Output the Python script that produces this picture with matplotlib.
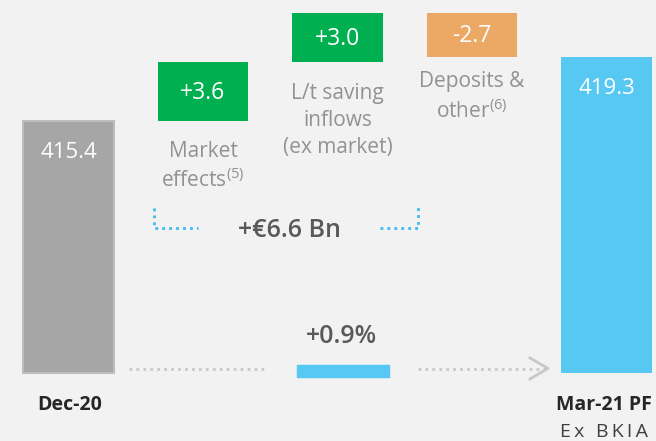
import matplotlib.pyplot as plt
from matplotlib.patches import Rectangle

plt.rcParams["font.family"] = ["Open Sans", "DejaVu Sans"]
plt.rcParams["mathtext.fontset"] = "custom"
plt.rcParams["mathtext.rm"] = "Open Sans"
plt.rcParams["mathtext.default"] = "regular"

# data
start_label = "Dec-20"
end_label = "Mar-21 PF"
end_sub = "E\u2009x\u2009 \u2009B\u2009K\u2009I\u2009A"
start_value = 415.4
end_value = 419.3
step_labels = ["Market\neffects$^{(5)}$", "L/t saving\ninflows\n(ex market)", "Deposits &\nother$^{(6)}$"]
step_values = [3.6, 3.0, -2.7]
baseline = 400.0

BG = "#f2f2f2"
GREY = "#a6a6a6"
BLUE = "#56c8f2"
GREEN = "#00b050"
ORANGE = "#eca865"
LABEL = "#929292"
DARK = "#595959"

fig = plt.figure(figsize=(6.56, 4.41), dpi=100)
fig.patch.set_facecolor(BG)
ax = fig.add_axes([0, 0, 1, 1])
ax.set_facecolor(BG)
ax.set_xlim(-0.509, 4.368)
ax.set_ylim(395.84, 422.80)
ax.axis("off")


def px(x, y):
    # pixel position -> data position (for decorations only)
    return (x - 68.5) / 134.5, 400 + (373 - y) / 16.36


def pt(p):
    return p * 72 / 100


w = 0.67

# start / end bars
ax.bar(0, start_value - baseline, bottom=baseline, width=w, color=GREY,
       edgecolor="#bdbdbd", linewidth=1.5)
ax.bar(4, end_value - baseline, bottom=baseline, width=w, color=BLUE)
for x, v in [(0, start_value), (4, end_value)]:
    ax.annotate(f"{v:.1f}", xy=(x, v), xytext=(0, pt(-31)), textcoords="offset points",
                ha="center", va="center", color="white", fontsize=16)

# waterfall steps
label_gap = [-20, -21, -14]
level = start_value
for i, (lab, v) in enumerate(zip(step_labels, step_values)):
    x = i + 1
    lo, hi = min(level, level + v), max(level, level + v)
    ax.bar(x, hi - lo, bottom=lo, width=w, color=GREEN if v > 0 else ORANGE)
    ax.annotate(f"{v:+.1f}", xy=(x, (lo + hi) / 2), xytext=(0, pt(-1)),
                textcoords="offset points", ha="center", va="center",
                color="white", fontsize=16.5)
    ax.annotate(lab, xy=(x, lo), xytext=(0, pt(label_gap[i])), textcoords="offset points",
                ha="center", va="top", color=LABEL, fontsize=15,
                linespacing=1.36, multialignment="center")
    level += v

# brackets and total
bcol = "#3cb9ee"
ax.plot(*zip(px(154, 208), px(154, 228), px(198, 228)), color=bcol, lw=2, ls=(0, (1, 1.5)))
ax.plot(*zip(px(380, 228), px(418, 228), px(418, 206)), color=bcol, lw=2, ls=(0, (1, 1.5)))
gain = sum(v for v in step_values if v > 0)
ax.text(*px(290, 231), f"+€{gain:.1f} Bn", ha="center", va="center",
        color=DARK, fontsize=18, fontweight=600)

# growth marker
pct = (end_value / start_value - 1) * 100
ax.text(*px(341, 337), f"+{pct:.1f}%", ha="center", va="center",
        color=DARK, fontsize=18, fontweight=600)
x0, y0 = px(297, 377)
x1, y1 = px(389, 365)
ax.add_patch(Rectangle((x0, y0), x1 - x0, y1 - y0, color=BLUE))
gcol = "#c8c8c8"
ax.plot(*zip(px(129, 369), px(267, 369)), color=gcol, lw=2, ls=(0, (1, 1.5)))
ax.plot(*zip(px(418, 369), px(546, 369)), color=gcol, lw=2, ls=(0, (1, 1.5)))
ax.plot(*zip(px(530, 358), px(548, 368.5), px(530, 379)), color=gcol, lw=2)

# axis labels
ax.text(*px(69.5, 405), start_label, ha="center", va="center",
        color="#262626", fontsize=14, fontweight="bold")
ax.text(*px(604, 405), end_label, ha="center", va="center",
        color="#262626", fontsize=14, fontweight="bold")
ax.text(*px(604, 432), end_sub, ha="center", va="center",
        color="#404040", fontsize=14)

fig.savefig("out.png", dpi=100, facecolor=BG)
